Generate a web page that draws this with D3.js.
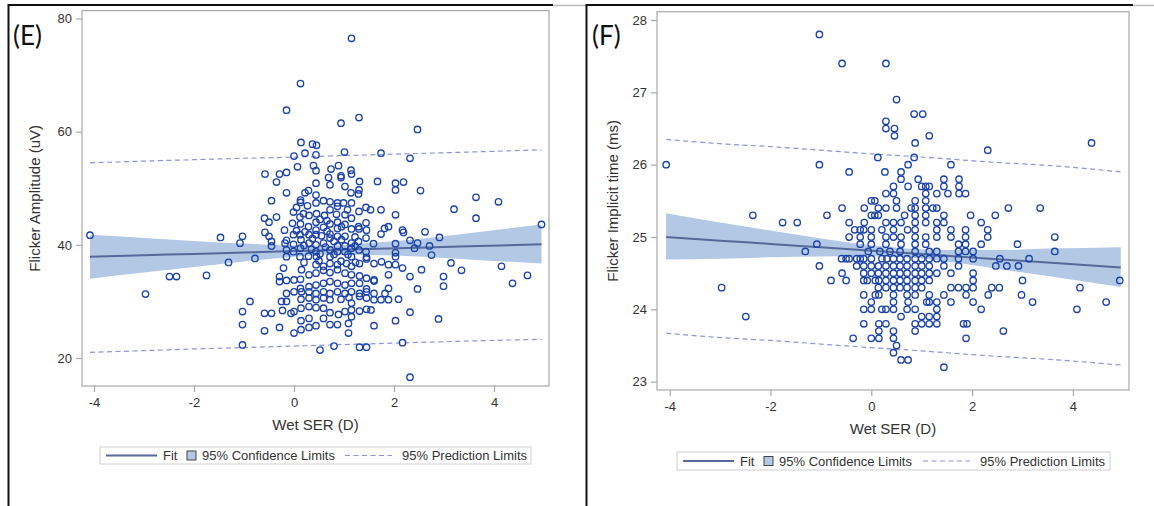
<!DOCTYPE html>
<html><head><meta charset="utf-8">
<script src="https://cdn.jsdelivr.net/npm/d3@7"></script>
<style>
html,body{margin:0;padding:0;background:#fff;}
svg text{font-family:Arial,"Liberation Sans",sans-serif;}
</style></head>
<body>
<svg id="chart" width="1154" height="506"></svg>
<script>
// ---------------- DATA ----------------
const xTicks = [-4, -2, 0, 2, 4];
const eYTicks = [20, 40, 60, 80];
const fYTicks = [23, 24, 25, 26, 27, 28];
const xTitle = "Wet SER (D)";
const eYTitle = "Flicker Amplitude (uV)";
const fYTitle = "Flicker Implicit time (ms)";
const panelLabels = ["(E)", "(F)"];
const legendLabels = ["Fit", "95% Confidence Limits", "95% Prediction Limits"];

// Panel E: scatter (Wet SER, amplitude)
const ePoints = [
[-4.08,41.7],[-1.47,41.3],[-0.15,63.8],[0.13,68.5],[1.15,76.5],[1.3,62.5],[3.2,46.3],[3.64,48.4],[4.09,47.6],[3.64,44.7],[4.95,43.6],[2.91,41.3],
[-2.49,34.4],[-2.35,34.4],[-1.75,34.6],[-2.97,31.3],[-1.31,36.9],[3.14,36.8],[3.35,35.5],[4.15,36.2],[4.37,33.2],[4.67,34.6],[2.99,34.4],[2.99,32.7],[2.32,16.6],
[0.94,61.5],[2.47,60.4],[0.14,58.1],[0.37,57.8],[0.45,57.6],[0.0,55.7],[0.22,56.2],[0.44,55.9],[1.01,56.4],[1.74,56.2],[2.32,55.3],
[-0.58,52.5],[-0.29,52.5],[-0.15,52.8],[-0.35,51.1],[0.07,53.8],[0.39,54.0],[0.44,53.1],[0.74,53.4],[0.89,54.0],[1.14,53.2],[1.15,52.5],[0.94,52.2],[0.94,51.9],[0.69,51.9],[1.31,51.2],[1.67,51.2],[2.03,50.9],[2.19,51.1],[2.03,49.7],[2.53,49.6],
[-0.15,49.2],[0.22,49.2],[0.29,49.6],[0.44,50.9],[0.44,48.8],[0.72,50.6],[1.02,50.3],[1.3,49.7],[1.29,49.0],[1.14,49.2],
[-0.45,47.8],[0.13,47.9],[0.13,47.5],[0.44,47.4],[0.59,47.8],[0.72,47.6],[0.87,47.4],[0.99,47.4],[1.15,47.4],[0.72,46.2],[0.87,46.8],[1.07,46.2],[1.3,45.9],[1.44,46.6],[1.53,46.2],[1.74,46.2],[2.03,45.3],
[-0.01,45.8],[0.12,44.9],[0.19,45.5],[0.3,45.2],[0.45,45.5],[0.61,45.2],[0.85,45.4],[1.02,45.3],[1.15,44.7],[-0.59,44.7],[-0.5,44.0],[-0.35,44.9],[-0.19,42.6],[-0.58,42.2],[-0.5,41.5],[-0.45,40.6],[-0.45,39.8],[-1.03,41.5],[-1.08,40.3],
[-0.03,43.8],[0.13,43.7],[0.29,43.2],[0.44,44.0],[0.44,42.6],[0.59,43.1],[0.72,43.7],[0.87,44.0],[0.87,42.9],[1.02,43.6],[1.15,42.8],[1.29,43.2],[1.3,42.8],[1.44,43.9],[1.45,42.6],[1.81,42.9],[1.89,43.2],[1.74,41.9],[2.17,42.6],[2.19,42.2],[2.62,42.3],
[1.44,41.2],[1.59,40.2],[1.29,40.6],[2.03,40.2],[2.32,40.8],[2.47,40.3],[2.71,39.8],
[-0.01,41.8],[0.12,41.8],[0.3,41.8],[0.44,41.8],[0.72,41.9],[0.72,41.2],[0.87,41.5],[1.02,41.5],[0.14,40.9],[0.3,40.3],[0.44,40.0],[0.59,40.3],[0.87,39.8],[1.02,39.8],[1.15,40.3],[-0.18,40.3],[-0.15,39.1],[-0.01,38.8],[0.13,39.4],[0.44,38.8],[0.72,39.1],[0.87,38.8],[1.02,38.8],[1.15,39.4],[1.3,39.1],[1.44,38.8],[2.03,38.6],[2.41,39.4],[2.75,38.2],
[-0.15,37.9],[0.12,37.9],[0.29,38.0],[0.45,37.9],[0.72,37.9],[1.15,37.9],[1.45,37.8],[2.03,37.9],[-0.78,37.6],
[-0.15,40.8],[-0.01,40.1],[0.05,42.5],[0.2,39.9],[0.22,42.3],[0.35,39.2],[0.37,41.1],[0.52,38.4],[0.55,41.6],[0.63,39.6],[0.66,42.4],[0.8,40.6],[0.8,38.3],[0.95,40.9],[0.95,43.2],[1.08,38.3],[1.22,41.4],[1.22,39.8],[0.05,46.6],[0.27,46.9],[0.52,44.5],[0.66,44.3],[0.2,36.9],[0.5,37.2],[0.94,37.1],[1.23,36.9],
[-0.21,35.9],[0.15,35.6],[0.44,36.5],[0.59,36.2],[0.72,36.7],[0.87,36.5],[1.05,36.7],[1.15,36.2],[1.31,36.7],[1.45,37.5],[1.6,36.7],[1.75,37.0],[1.89,36.5],[2.03,36.5],[2.17,35.9],[2.55,35.6],
[-0.29,34.4],[-0.29,33.5],[-0.15,33.7],[0.0,33.8],[0.13,33.9],[0.3,34.7],[0.44,35.0],[0.59,35.5],[0.72,35.1],[0.87,35.6],[1.02,35.0],[1.15,34.7],[1.31,34.5],[1.45,34.1],[1.6,33.8],[1.89,34.7],[2.32,34.4],
[0.13,32.3],[0.3,32.6],[0.44,32.9],[0.59,33.2],[0.72,33.5],[0.87,33.2],[1.02,32.9],[1.15,33.2],[1.31,33.2],[1.45,32.2],[1.6,33.6],[1.89,32.3],[2.47,32.2],
[-0.15,31.4],[0.0,31.7],[0.15,31.7],[0.3,31.7],[0.44,31.4],[0.59,31.7],[0.72,31.4],[0.87,31.7],[1.02,31.4],[1.15,31.7],[1.31,31.4],[1.45,31.7],[1.6,31.4],[1.82,31.4],
[-0.88,30.0],[-0.25,30.0],[-0.15,30.0],[0.14,30.4],[0.3,30.6],[0.44,30.3],[0.59,30.6],[0.72,30.3],[0.94,30.4],[1.1,30.7],[1.15,29.7],[1.31,30.9],[1.45,30.6],[1.6,30.3],[1.74,30.3],[1.89,30.3],[2.09,30.4],
[-1.03,28.2],[-0.59,27.9],[-0.45,27.9],[-0.23,28.4],[-0.06,27.9],[0.0,28.2],[0.14,28.8],[0.3,29.1],[0.44,28.9],[0.59,28.8],[0.72,28.0],[0.89,27.7],[1.02,28.2],[1.15,28.5],[1.31,28.3],[1.45,28.6],[1.54,28.5],[2.32,28.1],[2.03,26.6],
[-1.03,25.9],[-0.59,24.8],[-0.29,25.4],[0.0,24.4],[0.14,25.0],[0.3,25.4],[0.44,25.7],[0.59,27.0],[0.72,25.9],[0.87,25.9],[1.09,26.1],[1.09,24.4],[1.15,27.3],[1.6,25.7],[2.89,26.9],[0.14,26.6],[0.3,27.0],
[-1.03,22.3],[0.52,21.4],[0.8,22.1],[1.31,21.9],[1.45,21.9],[2.17,22.7]
];
// Panel E: fit, confidence and prediction limits
const eBandX = [-4.08, -3, -2, -1, 0, 0.7, 1.5, 2.5, 3.5, 4.95];
const eFit   = [37.9, 38.16, 38.4, 38.65, 38.89, 39.06, 39.26, 39.5, 39.74, 40.1];
const eCIHi  = [41.8, 41.23, 40.7, 40.23, 39.87, 39.86, 40.32, 41.05, 42.05, 43.6];
const eCILo  = [34.0, 35.09, 36.1, 37.07, 37.91, 38.26, 38.2, 37.95, 37.43, 36.7];
const ePIHi  = [54.5, 54.8, 55.05, 55.3, 55.5, 55.7, 55.9, 56.15, 56.4, 56.8];
const ePILo  = [21.0, 21.3, 21.6, 21.85, 22.1, 22.3, 22.5, 22.75, 23.0, 23.3];

// Panel F: scatter (Wet SER, implicit time)
const fPoints = [
[-4.07,26.0],[-1.03,27.8],[-0.58,27.4],[-1.03,26.0],[-0.44,25.9],[-2.35,25.3],[-1.76,25.2],[-1.47,25.2],[-0.88,25.3],[-0.58,25.4],[-0.44,25.2],[-1.08,24.9],[-1.31,24.8],[0.13,26.1],[-0.15,25.1],
[-1.03,24.6],[-0.58,24.5],[-0.8,24.4],[-0.5,24.4],[-2.97,24.3],[-2.49,23.9],[-0.36,23.6],[0,23.6],[-0.15,23.8],[-0.15,24.0],[0,24.0],[0,24.1],[-0.15,24.2],[0.08,24.2],[-0.59,24.7],[-0.5,24.7],[-0.44,24.7],[-0.29,24.7],[-0.22,24.7],[-0.15,24.7],[-0.29,24.6],[-0.15,24.6],[0,24.6],[-0.15,24.5],[0,24.5],[-0.15,24.4],[-0.08,24.4],[0.08,24.4],
[0.29,26.6],[0.29,26.5],[0.46,26.5],[0.46,26.4],[1.15,26.4],[0.87,26.3],[2.31,26.2],[0.85,26.1],[0.73,26.0],[1.58,26.0],[0.27,25.9],[0.59,25.9],[0.59,25.8],[0.93,25.8],[1.44,25.8],[1.74,25.8],
[1.0,25.7],[1.08,25.7],[1.15,25.7],[1.44,25.7],[1.74,25.7],[0.73,25.7],[0.44,25.7],
[0.29,25.6],[0.44,25.6],[1.3,25.6],[1.52,25.6],[1.74,25.6],[1.87,25.6],[1.08,25.6],
[0.0,25.5],[0.07,25.5],[0.5,25.5],[0.87,25.5],[1.08,25.5],
[-0.14,25.4],[0.14,25.4],[0.29,25.4],[0.5,25.4],[0.79,25.4],[0.87,25.4],[1.08,25.4],[1.22,25.4],[1.3,25.4],[2.72,25.4],
[0,25.3],[0.07,25.3],[0.14,25.3],[0.66,25.3],[0.87,25.3],[1.08,25.3],[1.44,25.3],[1.97,25.3],[2.46,25.3],
[-0.14,25.2],[0.29,25.2],[0.44,25.2],[0.59,25.2],[0.87,25.2],[1.08,25.2],[1.3,25.2],[1.44,25.2],[2.18,25.2],
[-0.33,25.1],[-0.22,25.1],[0,25.1],[0.21,25.1],[0.44,25.1],[0.72,25.1],[0.87,25.1],[1.3,25.1],[1.58,25.1],[1.87,25.1],[2.31,25.1],
[-0.44,25.0],[-0.22,25.0],[0,25.0],[0.29,25.0],[0.44,25.0],[0.59,25.0],[0.87,25.0],[1.08,25.0],[1.3,25.0],[1.58,25.0],[1.87,25.0],[2.31,25.0],
[-0.22,24.9],[0,24.9],[0.29,24.9],[0.59,24.9],[0.87,24.9],[1.08,24.9],[1.73,24.9],[1.87,24.9],[2.18,24.9],
[-0.06,24.8],[0.17,24.8],[0.37,24.8],[0.57,24.8],[0.87,24.8],[1.15,24.8],[1.3,24.8],[1.73,24.8],[1.87,24.8],[2.02,24.8],
[0,24.7],[0.21,24.7],[0.31,24.7],[0.44,24.7],[0.57,24.7],[0.71,24.7],[0.87,24.7],[1.0,24.7],[1.15,24.7],[1.3,24.7],[1.44,24.7],[1.73,24.7],[2.02,24.7],[2.55,24.7],
[0.14,24.6],[0.29,24.6],[0.44,24.6],[0.57,24.6],[0.71,24.6],[0.87,24.6],[1.0,24.6],[1.15,24.6],[1.44,24.6],[1.73,24.6],[2.47,24.6],[2.69,24.6],
[0.14,24.5],[0.29,24.5],[0.44,24.5],[0.57,24.5],[0.71,24.5],[0.87,24.5],[1.0,24.5],[1.15,24.5],[1.3,24.5],[1.58,24.5],[2.02,24.5],
[0.15,24.4],[0.29,24.4],[0.44,24.4],[0.57,24.4],[0.71,24.4],[0.87,24.4],[1.0,24.4],[1.15,24.4],[2.02,24.4],
[0.14,24.3],[0.29,24.3],[0.44,24.3],[0.57,24.3],[0.71,24.3],[0.87,24.3],[1.0,24.3],[1.58,24.3],[1.73,24.3],[1.88,24.3],[2.02,24.3],[2.39,24.3],[2.54,24.3],
[0.15,24.2],[0.44,24.2],[0.71,24.2],[0.87,24.2],[1.15,24.2],[1.44,24.2],[1.88,24.2],[2.32,24.2],
[0.44,24.1],[0.73,24.1],[1.1,24.1],[1.15,24.1],[1.3,24.1],[1.58,24.1],[2.02,24.1],
[0.21,24.0],[0.29,24.0],[0.44,24.0],[0.71,24.0],[0.87,24.0],[1.3,24.0],[2.18,24.0],
[0.59,23.9],[1.0,23.9],[1.15,23.9],[1.3,23.9],
[0.15,23.8],[0.29,23.8],[0.87,23.8],[1.0,23.8],[1.15,23.8],[1.3,23.8],[1.83,23.8],[1.9,23.8],
[0.15,23.7],[0.44,23.7],[0.87,23.7],
[0.15,23.6],[0.44,23.6],[1.88,23.6],[0.5,23.5],[0.44,23.4],[0.59,23.3],[0.73,23.3],[1.44,23.2],
[0.29,27.4],[0.5,26.9],[0.85,26.7],[1.02,26.7],[4.37,26.3],[3.35,25.4],[3.64,25.0],[2.9,24.9],[3.64,24.8],[3.13,24.7],[2.92,24.6],[3.0,24.4],[2.98,24.2],[3.2,24.1],[4.14,24.3],[4.08,24.0],[4.66,24.1],[4.93,24.4],[2.62,23.7]
];
const fBandX = [-4.07, -3, -2, -1, 0, 0.7, 1.5, 2.5, 3.5, 4.95];
const fFit   = [25.0, 24.95, 24.905, 24.857, 24.81, 24.778, 24.74, 24.694, 24.647, 24.58];
const fCIHi  = [25.33, 25.2, 25.09, 24.98, 24.885, 24.84, 24.82, 24.82, 24.84, 24.86];
const fCILo  = [24.69, 24.7, 24.72, 24.73, 24.735, 24.72, 24.66, 24.56, 24.46, 24.31];
const fPIHi  = [26.35, 26.29, 26.25, 26.2, 26.15, 26.12, 26.08, 26.03, 25.99, 25.9];
const fPILo  = [23.67, 23.61, 23.57, 23.52, 23.47, 23.44, 23.4, 23.35, 23.31, 23.23];

// ---------------- DRAWING ----------------
const svg = d3.select("#chart");
const COL = {
  point: "#1c43a8", fit: "#55699a", ci: "#b3c8e5", pi: "#8c95d9",
  frame: "#a9a9a9", text: "#333333"
};

// outer figure frame
svg.append("line").attr("x1",8).attr("x2",553).attr("y1",5).attr("y2",5).attr("stroke","#111").attr("stroke-width",2);
svg.append("line").attr("x1",553).attr("x2",587).attr("y1",5.5).attr("y2",5.5).attr("stroke","#bbb").attr("stroke-width",1.5);
svg.append("line").attr("x1",587).attr("x2",1133).attr("y1",5).attr("y2",5).attr("stroke","#111").attr("stroke-width",2);
svg.append("line").attr("x1",1133).attr("x2",1154).attr("y1",5.5).attr("y2",5.5).attr("stroke","#bbb").attr("stroke-width",1.5);
svg.append("line").attr("x1",8.5).attr("x2",8.5).attr("y1",4).attr("y2",506).attr("stroke","#111").attr("stroke-width",2);
svg.append("line").attr("x1",586.5).attr("x2",586.5).attr("y1",4).attr("y2",506).attr("stroke","#111").attr("stroke-width",2);

function drawPanel(cfg) {
  const g = svg.append("g");
  const x = d3.scaleLinear().domain(cfg.xDom).range([cfg.left, cfg.right]);
  const y = d3.scaleLinear().domain(cfg.yDom).range([cfg.bottom, cfg.top]);

  const band = cfg.bandX.map((bx,i)=>({x:bx, lo:cfg.ciLo[i], hi:cfg.ciHi[i]}));
  g.append("path").datum(band)
    .attr("d", d3.area().x(d=>x(d.x)).y0(d=>y(d.lo)).y1(d=>y(d.hi)).curve(d3.curveMonotoneX))
    .attr("fill", COL.ci).attr("stroke","none");

  g.append("path").datum(cfg.bandX.map((bx,i)=>[bx,cfg.fit[i]]))
    .attr("d", d3.line().x(d=>x(d[0])).y(d=>y(d[1])).curve(d3.curveMonotoneX))
    .attr("fill","none").attr("stroke",COL.fit).attr("stroke-width",2);

  [cfg.piLo, cfg.piHi].forEach(arr=>{
    g.append("path").datum(cfg.bandX.map((bx,i)=>[bx,arr[i]]))
      .attr("d", d3.line().x(d=>x(d[0])).y(d=>y(d[1])).curve(d3.curveMonotoneX))
      .attr("fill","none").attr("stroke",COL.pi).attr("stroke-width",1.2)
      .attr("stroke-dasharray","5,3.5");
  });

  g.append("g").selectAll("circle").data(cfg.points).join("circle")
    .attr("cx", d=>x(d[0])).attr("cy", d=>y(d[1])).attr("r", 3.2)
    .attr("fill","none").attr("stroke",COL.point).attr("stroke-width",1.35);

  g.append("rect").attr("x",cfg.left).attr("y",cfg.top)
    .attr("width",cfg.right-cfg.left).attr("height",cfg.bottom-cfg.top)
    .attr("fill","none").attr("stroke",COL.frame).attr("stroke-width",1.2);

  const ax = g.append("g").attr("transform",`translate(0,${cfg.bottom})`)
    .call(d3.axisBottom(x).tickValues(xTicks).tickSize(6).tickPadding(6).tickFormat(d=>d));
  const ay = g.append("g").attr("transform",`translate(${cfg.left},0)`)
    .call(d3.axisLeft(y).tickValues(cfg.yTicks).tickSize(6).tickPadding(4).tickFormat(d=>d));
  [ax, ay].forEach(a=>{
    a.select(".domain").remove();
    a.selectAll(".tick line").attr("stroke",COL.frame).attr("stroke-width",1.2);
    a.selectAll(".tick text").attr("fill",COL.text).style("font-size","13px");
  });

  g.append("text").attr("x",(cfg.left+cfg.right)/2).attr("y",cfg.xTitleY)
    .attr("text-anchor","middle").attr("fill",COL.text).style("font-size","15px").text(xTitle);
  g.append("text").attr("transform",`translate(${cfg.yTitleX},${(cfg.top+cfg.bottom)/2}) rotate(-90)`)
    .attr("text-anchor","middle").attr("fill",COL.text).style("font-size","15px").text(cfg.yTitle);

  g.append("text").attr("x",cfg.labelX).attr("y",cfg.labelY)
    .attr("fill","#111").style("font-size","26px").style("font-family","Lato, 'Open Sans', sans-serif")
    .text(cfg.label);

  const L = cfg.legend;
  const lg = g.append("g");
  lg.append("rect").attr("x",L.x).attr("y",L.y).attr("width",L.w).attr("height",L.h)
    .attr("fill","#fff").attr("stroke","#d0d0d0").attr("stroke-width",1);
  const cy = L.y + L.h/2;
  lg.append("line").attr("x1",L.x+6).attr("x2",L.x+57).attr("y1",cy).attr("y2",cy)
    .attr("stroke",COL.fit).attr("stroke-width",2);
  lg.append("text").attr("x",L.x+63).attr("y",cy+4.5).attr("fill",COL.text).style("font-size","13px").text(legendLabels[0]);
  lg.append("rect").attr("x",L.x+87).attr("y",cy-4.5).attr("width",9).attr("height",9)
    .attr("fill",COL.ci).attr("stroke","#444").attr("stroke-width",1);
  lg.append("text").attr("x",L.x+102).attr("y",cy+4.5).attr("fill",COL.text).style("font-size","13px").text(legendLabels[1]);
  lg.append("line").attr("x1",L.x+L.dashX).attr("x2",L.x+L.dashX+47).attr("y1",cy).attr("y2",cy)
    .attr("stroke",COL.pi).attr("stroke-width",1.2).attr("stroke-dasharray","5,3.5");
  lg.append("text").attr("x",L.x+L.dashX+57).attr("y",cy+4.5).attr("fill",COL.text).style("font-size","13px").text(legendLabels[2]);
}

drawPanel({
  left:82, right:549, top:10.6, bottom:386,
  xDom:[-4.24, 5.1], yDom:[15.05, 81.4], yTicks:eYTicks,
  points:ePoints, bandX:eBandX, fit:eFit, ciLo:eCILo, ciHi:eCIHi, piLo:ePILo, piHi:ePIHi,
  yTitle:eYTitle, yTitleX:40, xTitleY:430,
  label:panelLabels[0], labelX:13, labelY:45,
  legend:{x:100, y:447, w:431, h:17, dashX:245}
});
drawPanel({
  left:657, right:1129, top:11.7, bottom:390,
  xDom:[-4.252, 5.113], yDom:[22.885, 28.115], yTicks:fYTicks,
  points:fPoints, bandX:fBandX, fit:fFit, ciLo:fCILo, ciHi:fCIHi, piLo:fPILo, piHi:fPIHi,
  yTitle:fYTitle, yTitleX:618, xTitleY:434,
  label:panelLabels[1], labelX:592, labelY:45,
  legend:{x:677, y:452, w:433, h:18, dashX:246}
});
</script>
</body></html>
